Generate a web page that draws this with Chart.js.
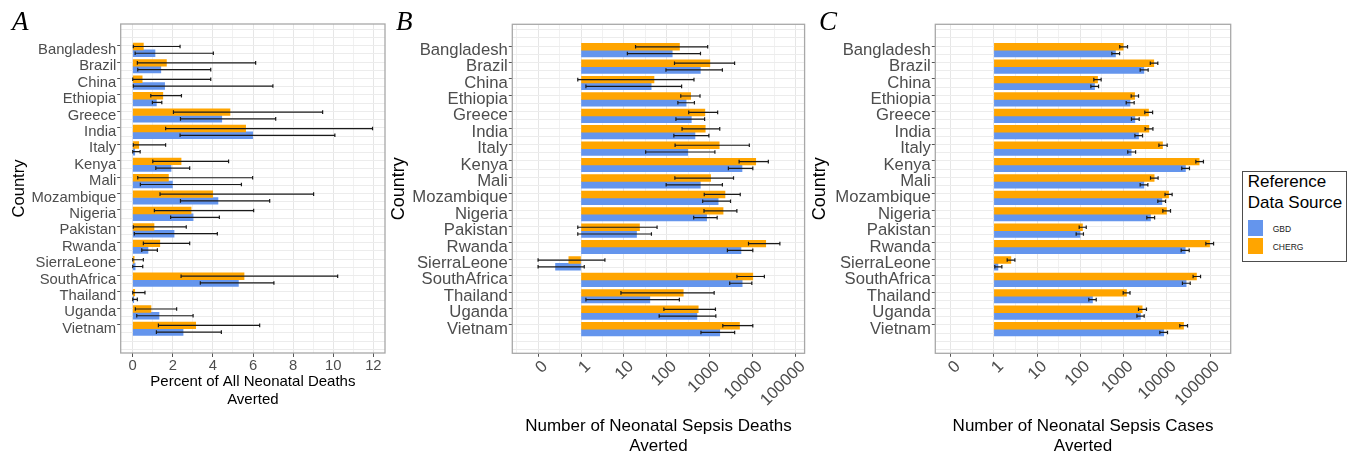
<!DOCTYPE html>
<html lang="en">
<head>
<meta charset="UTF-8">
<title>Neonatal Sepsis Averted</title>
<style>
    body { margin: 0; width: 1359px; height: 454px; overflow: hidden; background: #fff; position: relative;
           font-family: 'Liberation Sans', Arial, sans-serif; }
    .panel { position: absolute; top: 0; height: 470px; }
    .letter { position: absolute; top: 8px; font-family: 'Liberation Serif', 'Times New Roman', serif;
              font-style: italic; font-size: 27px; line-height: 27px; color: #000; }
    #legend { position: absolute; left: 1241.7px; top: 170.7px; width: 105px; height: 91px;
              box-sizing: border-box; border: 1.7px solid #4d4d4d; background: #fff; }
    .lg { position: absolute; white-space: nowrap; }
    .key { position: absolute; width: 15px; height: 16px; }
</style>
<script src="https://cdn.jsdelivr.net/npm/chart.js"></script>
</head>
<body>
<div class="panel" style="left:0; width:390px;"><canvas id="chartA"></canvas></div>
<div class="panel" style="left:380px; width:430px;"><canvas id="chartB"></canvas></div>
<div class="panel" style="left:800px; width:436px;"><canvas id="chartC"></canvas></div>
<div class="letter" style="left:12px;">A</div>
<div class="letter" style="left:396px;">B</div>
<div class="letter" style="left:819px;">C</div>

<div id="legend"></div>
<div class="lg" style="left:1247.7px; top:172px; font-size:17px; line-height:20.6px;">Reference<br>Data Source</div>
<div class="key" style="left:1248.3px; top:220px; background:#6495ED;"></div>
<div class="key" style="left:1248.3px; top:238.3px; background:#FFA500;"></div>
<div class="lg" style="left:1272.7px; top:223.7px; font-size:8.5px; line-height:10px; color:#1a1a1a;">GBD</div>
<div class="lg" style="left:1272.7px; top:241.7px; font-size:8.5px; line-height:10px; color:#1a1a1a;">CHERG</div>

<script>
const countries = ['Bangladesh', 'Brazil', 'China', 'Ethiopia', 'Greece', 'India', 'Italy', 'Kenya', 'Mali',
    'Mozambique', 'Nigeria', 'Pakistan', 'Rwanda', 'SierraLeone', 'SouthAfrica', 'Thailand', 'Uganda', 'Vietnam'];

// A: percent of all neonatal deaths averted
const pctCherg   = [0.53, 1.68, 0.47, 1.50, 4.85, 5.63, 0.30, 2.41, 1.78, 3.99, 2.91, 1.06, 1.35, 0.07, 5.55, 0.10, 0.91, 3.14];
const pctChergLo = [0.03, 0.23, 0.00, 0.90, 2.03, 1.64, 0.03, 1.00, 0.25, 1.36, 1.08, 0.03, 0.53, 0.00, 2.41, 0.00, 0.13, 1.28];
const pctChergHi = [2.36, 6.13, 3.89, 2.43, 9.47, 11.96, 1.64, 4.78, 5.98, 9.02, 6.03, 2.67, 2.84, 0.53, 10.22, 0.61, 2.19, 6.33];
const pctGbd     = [1.11, 1.40, 1.59, 1.18, 4.44, 5.98, 0.10, 1.91, 1.98, 4.25, 3.01, 2.06, 0.76, 0.12, 5.27, 0.05, 1.31, 2.51];
const pctGbdLo   = [0.12, 0.25, 0.03, 0.98, 2.38, 2.36, 0.00, 1.15, 0.38, 2.38, 1.89, 0.08, 0.45, 0.00, 3.37, 0.00, 0.20, 1.18];
const pctGbdHi   = [4.02, 3.89, 6.99, 1.45, 7.13, 10.08, 0.37, 2.84, 5.42, 6.83, 4.32, 4.22, 1.23, 0.50, 7.04, 0.23, 3.01, 4.42];

// B: number of neonatal sepsis deaths averted
const deathsCherg   = [196, 1000, 50, 357, 765, 780, 1650, 11700, 1040, 2250, 2030, 23, 20000, 0.52, 10000, 240, 536, 4900];
const deathsChergLo = [18.6, 150, 0.84, 210, 322, 225, 155, 4800, 153, 740, 730, 0.84, 7940, 0.1, 4270, 8.5, 85, 2000];
const deathsChergHi = [890, 3770, 427, 590, 1520, 1700, 8300, 23000, 3560, 5100, 4260, 59, 42700, 3.6, 18600, 1260, 1350, 10000];
const deathsGbd     = [133, 600, 43, 280, 370, 450, 305, 5600, 600, 1560, 840, 19.6, 5300, 0.255, 5650, 40, 500, 1700];
const deathsGbdLo   = [12, 95, 1.3, 180, 162, 145, 32, 2700, 96, 680, 420, 0.84, 2560, 0.1, 2900, 1.3, 66, 620];
const deathsGbdHi   = [605, 1960, 220, 437, 755, 950, 1310, 10000, 1960, 3030, 1480, 43.6, 10000, 1.19, 9500, 195, 1380, 3780];

// C: number of neonatal sepsis cases averted
const casesCherg   = [980, 5000, 250, 1800, 3780, 3850, 7960, 56000, 5100, 11000, 9850, 112, 97600, 2.47, 48600, 1170, 2690, 24400];
const casesChergLo = [815, 4150, 205, 1500, 3100, 3150, 6570, 47000, 4200, 9100, 8100, 94, 80000, 2.03, 40600, 980, 2220, 20000];
const casesChergHi = [1235, 6200, 303, 2220, 4700, 4780, 10200, 70500, 6300, 13300, 12200, 137, 121000, 3.06, 60400, 1410, 3390, 30200];
const casesGbd     = [650, 2950, 213, 1410, 1825, 2220, 1500, 27000, 2950, 7700, 4200, 98, 26700, 1.24, 28000, 191, 2460, 8500];
const casesGbdLo   = [535, 2420, 175, 1150, 1520, 1830, 1250, 22200, 2420, 6200, 3450, 80, 21500, 1.05, 23000, 157, 2035, 6900];
const casesGbdHi   = [810, 3710, 264, 1760, 2300, 2750, 1900, 33500, 3650, 9370, 5230, 118, 33000, 1.53, 34800, 233, 3000, 10400];

const ORANGE = '#FFA500';
const BLUE = '#6495ED';

Chart.defaults.font.family = "'Liberation Sans', Arial, sans-serif";

// error bars drawn from each dataset's errLo / errHi through the x scale
const errorBars = {
    id: 'errorBars',
    afterDatasetsDraw(chart) {
        const ctx = chart.ctx;
        const xs = chart.scales.x;
        ctx.save();
        ctx.strokeStyle = '#1a1a1a';
        ctx.lineWidth = 1.2;
        chart.data.datasets.forEach((ds, di) => {
            chart.getDatasetMeta(di).data.forEach((bar, i) => {
                const x0 = xs.getPixelForValue(ds.errLo[i]);
                const x1 = xs.getPixelForValue(ds.errHi[i]);
                const y = bar.y, h = 1.8;
                ctx.beginPath();
                ctx.moveTo(x0, y); ctx.lineTo(x1, y);
                ctx.moveTo(x0, y - h); ctx.lineTo(x0, y + h);
                ctx.moveTo(x1, y - h); ctx.lineTo(x1, y + h);
                ctx.stroke();
            });
        });
        ctx.restore();
    }
};

// panel border
const frame = {
    id: 'frame',
    afterDraw(chart) {
        const a = chart.chartArea, ctx = chart.ctx;
        ctx.save();
        ctx.strokeStyle = '#a8a8a8';
        ctx.lineWidth = 1.3;
        ctx.strokeRect(a.left, a.top, a.right - a.left, a.bottom - a.top);
        ctx.restore();
    }
};

function isCountryTick(c) {
    return c.tick && Number.isInteger(c.tick.value) && c.tick.value >= 0 && c.tick.value < countries.length;
}

function countryAxis(width, labelSize, titleSize) {
    return {
        type: 'linear', reverse: true, min: -1.32, max: 18.22, bounds: 'data',
        afterBuildTicks: s => {
            const t = [];
            for (let v = -1; v <= 18; v += 0.5) t.push({ value: v });
            s.ticks = t;
        },
        afterFit: s => { s.width = width; },
        ticks: {
            autoSkip: false, padding: 1, color: '#4d4d4d', font: { size: labelSize },
            callback: v => (Number.isInteger(v) && countries[v]) ? countries[v] : ''
        },
        grid: {
            color: '#ececec', lineWidth: 1, tickLength: 3.5,
            tickColor: c => isCountryTick(c) ? '#555' : 'rgba(0,0,0,0)'
        },
        border: { display: false },
        title: { display: true, text: 'Country', color: '#000', font: { size: titleSize }, padding: 0 }
    };
}

function isDecade(v) {
    const l = Math.log10(v);
    return Math.abs(l - Math.round(l)) < 1e-9;
}

function logAxis(min, max, height, title) {
    return {
        type: 'logarithmic', min: min, max: max, bounds: 'data',
        afterBuildTicks: s => {
            const t = [];
            for (let e = -1.5; e <= 5.5; e += 0.5) {
                const v = Math.pow(10, e);
                if (v >= s.min && v <= s.max) t.push({ value: v });
            }
            s.ticks = t;
        },
        afterFit: s => { s.height = height; },
        ticks: {
            autoSkip: false, minRotation: 45, maxRotation: 45, padding: 0, color: '#4d4d4d', font: { size: 16.7 },
            // transparent backdrop keeps the rotated label anchored on its tick
            showLabelBackdrop: true, backdropColor: 'rgba(0,0,0,0)', backdropPadding: 0,
            callback: v => isDecade(v) ? (v < 1 ? '0' : String(Math.round(v))) : ''
        },
        grid: {
            color: c => (c.tick && isDecade(c.tick.value)) ? '#e6e6e6' : '#f1f1f1',
            lineWidth: 1, tickLength: 3.5,
            tickColor: c => (c.tick && isDecade(c.tick.value)) ? '#555' : 'rgba(0,0,0,0)'
        },
        border: { display: false },
        title: { display: true, text: title, color: '#000', font: { size: 17, lineHeight: 1.18 }, padding: 0 }
    };
}

function barSets(cherg, chergLo, chergHi, gbd, gbdLo, gbdHi, base) {
    const common = { barThickness: 6.75, borderWidth: 0 };
    if (base !== undefined) common.base = base;
    return [
        Object.assign({ label: 'CHERG', backgroundColor: ORANGE, errLo: chergLo, errHi: chergHi,
            data: cherg.map((v, i) => ({ x: v, y: i })) }, common),
        Object.assign({ label: 'GBD', backgroundColor: BLUE, errLo: gbdLo, errHi: gbdHi,
            data: gbd.map((v, i) => ({ x: v, y: i })) }, common)
    ];
}

function makeChart(id, datasets, xScale, yScale, padding) {
    new Chart(document.getElementById(id), {
        type: 'bar',
        data: { datasets: datasets },
        options: {
            indexAxis: 'y',
            responsive: true,
            maintainAspectRatio: false,
            animation: false,
            layout: { padding: padding },
            plugins: { legend: { display: false }, tooltip: { enabled: false } },
            scales: { x: xScale, y: yScale }
        },
        plugins: [errorBars, frame]
    });
}

// Panel A
makeChart('chartA',
    barSets(pctCherg, pctChergLo, pctChergHi, pctGbd, pctGbdLo, pctGbdHi),
    {
        type: 'linear', min: -0.6, max: 12.58, bounds: 'data',
        afterBuildTicks: s => {
            const t = [];
            for (let v = 0; v <= 12; v++) t.push({ value: v });
            s.ticks = t;
        },
        afterFit: s => { s.height = 55.85; },
        ticks: {
            autoSkip: false, minRotation: 0, maxRotation: 0, padding: 0, color: '#4d4d4d', font: { size: 14.8 },
            callback: v => v % 2 === 0 ? String(v) : ''
        },
        grid: {
            color: c => (c.tick && c.tick.value % 2 === 0) ? '#e6e6e6' : '#f1f1f1',
            lineWidth: 1, tickLength: 4,
            tickColor: c => (c.tick && c.tick.value % 2 === 0) ? '#555' : 'rgba(0,0,0,0)'
        },
        border: { display: false },
        title: { display: true, text: ['Percent of All Neonatal Deaths', 'Averted'], color: '#000',
                 font: { size: 15, lineHeight: 1.18 }, padding: 0 }
    },
    countryAxis(111.7, 14.8, 16.6),
    { left: 9, right: 5, top: 24, bottom: 61.15 });

// Panel B
makeChart('chartB',
    barSets(deathsCherg, deathsChergLo, deathsChergHi, deathsGbd, deathsGbdLo, deathsGbdHi, 1),
    logAxis(0.0251, 160700, 102.73, ['Number of Neonatal Sepsis Deaths', 'Averted']),
    countryAxis(124.3, 16.7, 18),
    { left: 8, right: 2.7, top: 24.3, bottom: 13.97 });

// Panel C
makeChart('chartC',
    barSets(casesCherg, casesChergLo, casesChergHi, casesGbd, casesGbdLo, casesGbdHi, 1),
    logAxis(0.0441, 301000, 102.73, ['Number of Neonatal Sepsis Cases', 'Averted']),
    countryAxis(126.1, 16.7, 18),
    { left: 9.2, right: 5.3, top: 24.3, bottom: 13.97 });
</script>
</body>
</html>
